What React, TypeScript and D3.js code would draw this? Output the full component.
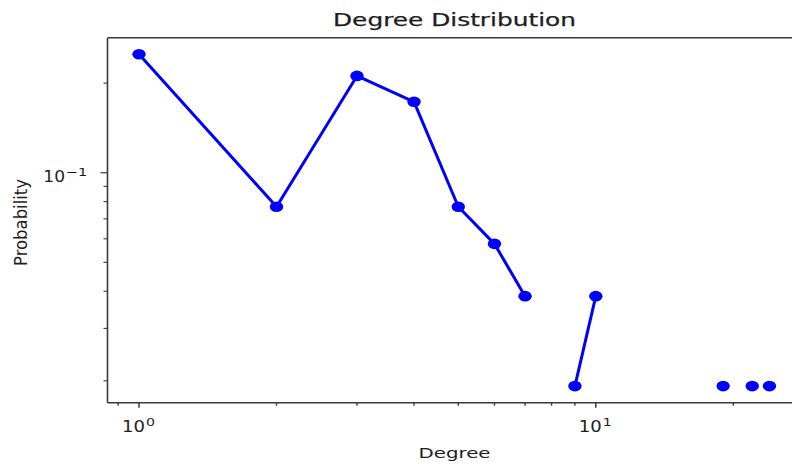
import React from "react";
import * as d3 from "d3";

const degrees = [1, 2, 3, 4, 5, 6, 7, 8, 9, 10, 11, 12, 13, 14, 15, 16, 17, 18, 19, 20, 21, 22, 23, 24];
const probabilities = [
  0.25, 0.0769, 0.2115, 0.1731, 0.0769, 0.0577, 0.0385, 0, 0.0192, 0.0385,
  0, 0, 0, 0, 0, 0, 0, 0, 0.0192, 0, 0, 0.0192, 0, 0.0192,
];
const xMajorTicks = [1, 10];
const xTickBase = ["10", "10"];
const xTickExp = ["0", "1"];
const yMajorTicks = [0.1];
const yTickBase = ["10"];
const yTickExp = ["\u22121"];

const W = 792;
const H = 464;
const plot = { left: 107.5, right: 801, top: 37.7, bottom: 402.7 };
const FONT = "DejaVu Sans, sans-serif";
const TXT = "#1e1e1e";
const SPINE = "#3a3a3a";

function logDomain(vals: number[]): [number, number] {
  const lo = Math.log10(d3.min(vals) as number);
  const hi = Math.log10(d3.max(vals) as number);
  const m = (hi - lo) * 0.05;
  return [Math.pow(10, lo - m), Math.pow(10, hi + m)];
}

function minorTicks(domain: [number, number]): number[] {
  const out: number[] = [];
  const d0 = Math.floor(Math.log10(domain[0]));
  const d1 = Math.ceil(Math.log10(domain[1]));
  for (let e = d0; e <= d1; e++) {
    for (let k = 2; k <= 9; k++) {
      const v = k * Math.pow(10, e);
      if (v >= domain[0] && v <= domain[1]) out.push(v);
    }
  }
  return out;
}

export default function App() {
  const data = degrees.map((d, i) => ({ d, p: probabilities[i] }));
  const pos = data.filter((e) => e.p > 0);
  const xDom = logDomain(pos.map((e) => e.d));
  const yDom = logDomain(pos.map((e) => e.p));
  const x = d3.scaleLog().domain(xDom).range([plot.left, plot.right]);
  const y = d3.scaleLog().domain(yDom).range([plot.bottom, plot.top]);

  const line = d3
    .line<{ d: number; p: number }>()
    .defined((e) => e.p > 0)
    .x((e) => x(e.d))
    .y((e) => y(e.p));

  const xMinor = minorTicks(xDom);
  const yMinor = minorTicks(yDom);

  return (
    <svg
      width={W}
      height={H}
      style={{ position: "absolute", left: 0, top: 0, background: "#fff" }}
      fontFamily={FONT}
    >
      <rect x={0} y={0} width={W} height={H} fill="#fff" />
      {/* title */}
      <text
        x={454.5}
        y={26}
        fontSize={17}
        textAnchor="middle"
        textLength={243}
        lengthAdjust="spacingAndGlyphs"
        fill={TXT}
        stroke={TXT}
        strokeWidth={0.25}
      >
        Degree Distribution
      </text>

      {/* data line */}
      <path d={line(data) || ""} fill="none" stroke="#0000ff" strokeWidth={3} strokeLinejoin="round" />
      {pos.map((e, i) => (
        <ellipse key={i} cx={x(e.d)} cy={y(e.p)} rx={6.7} ry={5.3} fill="#0000ff" />
      ))}

      {/* spines */}
      <line x1={plot.left} x2={W} y1={plot.top} y2={plot.top} stroke={SPINE} strokeWidth={1.5} />
      <line x1={plot.left} x2={W} y1={plot.bottom} y2={plot.bottom} stroke={SPINE} strokeWidth={1.5} />
      <line x1={plot.left} x2={plot.left} y1={plot.top} y2={plot.bottom} stroke={SPINE} strokeWidth={1.6} />

      {/* x ticks */}
      {xMajorTicks.map((t, i) => {
        const tx = x(t);
        return (
          <g key={"xm" + i}>
            <line x1={tx} x2={tx} y1={plot.bottom} y2={plot.bottom + 5} stroke={SPINE} strokeWidth={1.5} />
            <text x={tx - 17} y={432} fontSize={15} textLength={23} lengthAdjust="spacingAndGlyphs" fill={TXT}>
              {xTickBase[i]}
            </text>
            <text x={tx + 7} y={426} fontSize={11} textLength={9} lengthAdjust="spacingAndGlyphs" fill={TXT}>
              {xTickExp[i]}
            </text>
          </g>
        );
      })}
      {xMinor.map((t, i) => (
        <line key={"xn" + i} x1={x(t)} x2={x(t)} y1={plot.bottom} y2={plot.bottom + 3} stroke={SPINE} strokeWidth={1.4} />
      ))}

      {/* y ticks */}
      {yMajorTicks.map((t, i) => {
        const ty = y(t);
        return (
          <g key={"ym" + i}>
            <line x1={plot.left - 7} x2={plot.left} y1={ty} y2={ty} stroke={SPINE} strokeWidth={1.2} />
            <text x={43.3} y={ty + 9.4} fontSize={15} textLength={21.7} lengthAdjust="spacingAndGlyphs" fill={TXT}>
              {yTickBase[i]}
            </text>
            <text x={65.7} y={ty + 3.4} fontSize={11} textLength={21.6} lengthAdjust="spacingAndGlyphs" fill={TXT}>
              {yTickExp[i]}
            </text>
          </g>
        );
      })}
      {yMinor.map((t, i) => (
        <line key={"yn" + i} x1={plot.left - 4} x2={plot.left} y1={y(t)} y2={y(t)} stroke={SPINE} strokeWidth={1.1} />
      ))}

      {/* axis labels */}
      <text
        x={454.5}
        y={458}
        fontSize={14.5}
        textAnchor="middle"
        textLength={72}
        lengthAdjust="spacingAndGlyphs"
        fill={TXT}
      >
        Degree
      </text>
      <text
        transform={`translate(26.5, 222.5) rotate(-90)`}
        fontSize={18}
        textAnchor="middle"
        textLength={87}
        lengthAdjust="spacingAndGlyphs"
        fill={TXT}
      >
        Probability
      </text>
    </svg>
  );
}
